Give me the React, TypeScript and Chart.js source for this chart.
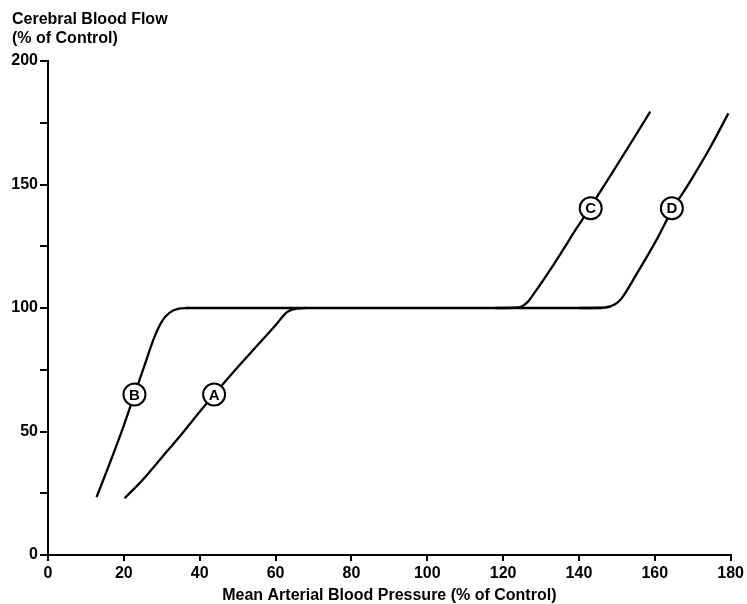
import React, { useEffect, useRef } from "react";
import { Chart, registerables } from "chart.js";

Chart.register(...registerables);

// Curve B (left, steep)
const curveBX = [12.8, 16.5, 20, 22.8, 25.5, 28, 30, 32, 34.5, 37];
const curveBY = [23.4, 38, 52.5, 65, 77, 88, 94.5, 98, 99.7, 100];
// Curve A (left, shallow)
const curveAX = [20.2, 25, 30, 35, 40, 43.8, 50, 55, 60, 63, 65.5, 68];
const curveAY = [23, 30.5, 39.5, 48.5, 58, 65, 76, 84.5, 93, 98.3, 99.8, 100];
// Plateau
const plateauX = [36.5, 146];
const plateauY = [100, 100];
// Curve C (right, earlier break)
const curveCX = [118, 124, 126.5, 128.2, 133.5, 139.6, 143.1, 148.3, 153.6, 158.8];
const curveCY = [100, 100.2, 102.5, 106, 118, 132.8, 141, 153.6, 166.6, 179.5];
// Curve D (right, later break)
const curveDX = [140, 147, 149.5, 151.2, 155.3, 160.6, 164.5, 169.3, 174.6, 179.4];
const curveDY = [100, 100.2, 101.5, 103.8, 114, 128, 139.5, 151.2, 165, 178.8];

// Circled curve labels (data coordinates)
const labelText = ["B", "A", "C", "D"];
const labelX = [22.8, 43.8, 143.1, 164.5];
const labelY = [65, 65, 140.4, 140.4];

const titleLines = ["Cerebral Blood Flow", "(% of Control)"];
const xTitle = "Mean Arterial Blood Pressure (% of Control)";

const FONT = "'Liberation Sans', Arial, sans-serif";

const pts = (xs: number[], ys: number[]) => xs.map((x, i) => ({ x, y: ys[i] }));

export default function App() {
  const ref = useRef<HTMLCanvasElement | null>(null);

  useEffect(() => {
    if (!ref.current) return;
    const lineDs = (label: string, xs: number[], ys: number[]) => ({
      label,
      data: pts(xs, ys),
      borderColor: "#000",
      borderWidth: 2.3,
      pointRadius: 0,
      fill: false,
      cubicInterpolationMode: "monotone" as const,
    });

    const circleLabels = {
      id: "circleLabels",
      afterDatasetsDraw(chart: any) {
        const ctx = chart.ctx;
        const xs = chart.scales.x;
        const ys = chart.scales.y;
        ctx.save();
        labelText.forEach((t, i) => {
          const px = xs.getPixelForValue(labelX[i]);
          const py = ys.getPixelForValue(labelY[i]);
          ctx.beginPath();
          ctx.arc(px, py, 11, 0, Math.PI * 2);
          ctx.fillStyle = "#fff";
          ctx.fill();
          ctx.lineWidth = 2;
          ctx.strokeStyle = "#000";
          ctx.stroke();
          ctx.fillStyle = "#000";
          ctx.font = `bold 15px ${FONT}`;
          ctx.textAlign = "center";
          ctx.textBaseline = "middle";
          ctx.fillText(t, px, py + 1);
        });
        ctx.restore();
      },
    };

    const topTitle = {
      id: "topTitle",
      afterDraw(chart: any) {
        const ctx = chart.ctx;
        ctx.save();
        ctx.fillStyle = "#000";
        ctx.font = `bold 16px ${FONT}`;
        ctx.textAlign = "left";
        ctx.textBaseline = "middle";
        ctx.fillText(titleLines[0], 12, 20);
        ctx.fillText(titleLines[1], 12, 38.5);
        ctx.restore();
      },
    };

    const chart = new Chart(ref.current, {
      type: "line",
      data: {
        datasets: [
          lineDs("B", curveBX, curveBY),
          lineDs("A", curveAX, curveAY),
          lineDs("Plateau", plateauX, plateauY),
          lineDs("C", curveCX, curveCY),
          lineDs("D", curveDX, curveDY),
        ],
      },
      options: {
        responsive: false,
        animation: false,
        layout: { padding: { top: 61, right: 14, left: 0, bottom: 0 } },
        plugins: {
          legend: { display: false },
          tooltip: { enabled: false },
          title: { display: false },
        },
        scales: {
          x: {
            type: "linear",
            min: 0,
            max: 180,
            afterFit(scale: any) {
              scale.height = 49;
            },
            ticks: {
              stepSize: 20,
              color: "#000",
              padding: 3,
              font: { family: FONT, size: 16, weight: "bold" },
              maxRotation: 0,
            },
            grid: {
              display: true,
              drawOnChartArea: false,
              drawTicks: true,
              tickLength: 6,
              color: "#000",
              lineWidth: 2,
            },
            border: { display: true, color: "#000", width: 2 },
            title: {
              display: true,
              text: xTitle,
              color: "#000",
              font: { family: FONT, size: 16, weight: "bold", lineHeight: 1 },
              padding: { top: 0, bottom: 0 },
            },
          },
          y: {
            type: "linear",
            min: 0,
            max: 200,
            afterFit(scale: any) {
              scale.width = 48;
            },
            ticks: {
              stepSize: 25,
              color: "#000",
              padding: 2,
              font: { family: FONT, size: 16, weight: "bold" },
              callback: (v: any) => (Number(v) % 50 === 0 ? String(v) : ""),
            },
            grid: {
              display: true,
              drawOnChartArea: false,
              drawTicks: true,
              tickLength: 8,
              color: "#000",
              lineWidth: 2,
            },
            border: { display: true, color: "#000", width: 2 },
          },
        },
      },
      plugins: [circleLabels, topTitle],
    });
    return () => chart.destroy();
  }, []);

  return (
    <div style={{ position: "absolute", left: 0, top: 0, width: 747, height: 604, background: "#fff" }}>
      <canvas ref={ref} width={747} height={604} style={{ display: "block" }} />
    </div>
  );
}
